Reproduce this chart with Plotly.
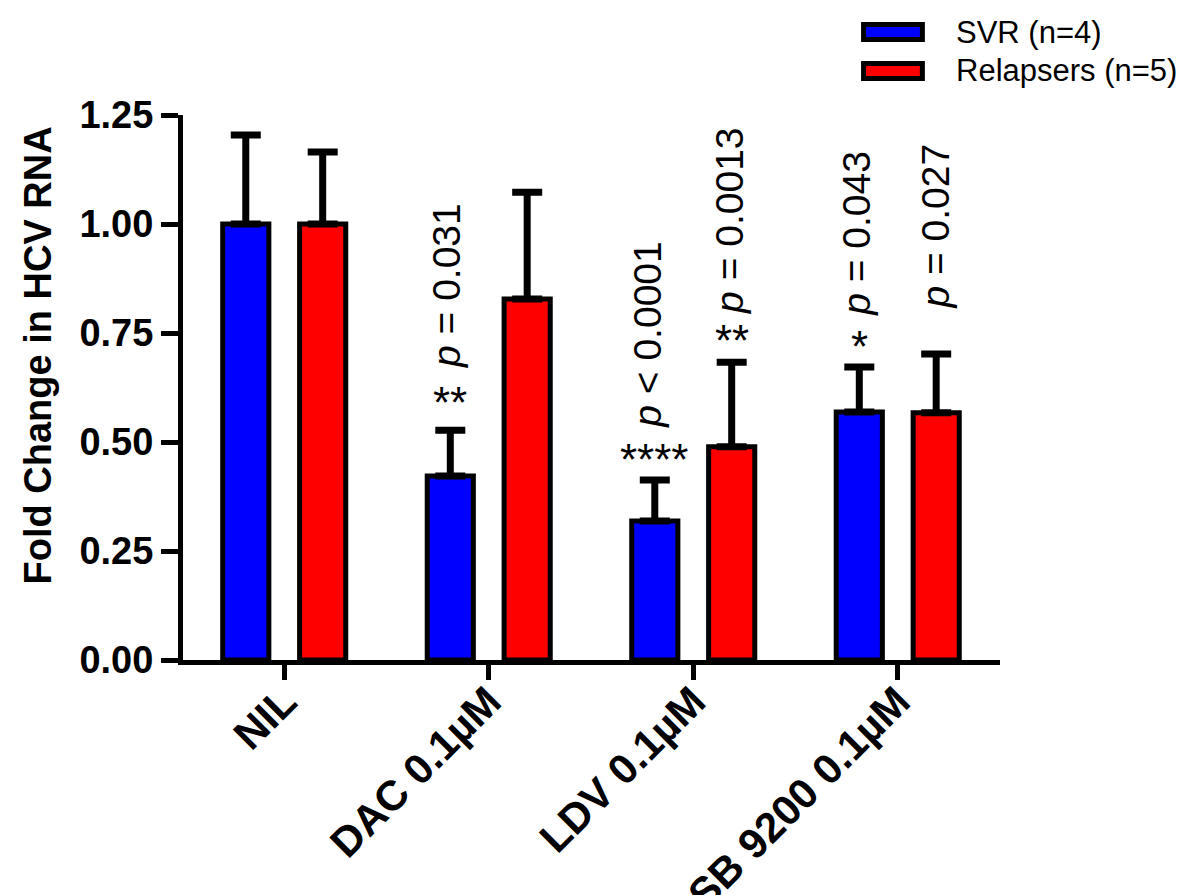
import plotly.graph_objects as go

# ---------------- data ----------------
categories = ["NIL", "DAC 0.1µM", "LDV 0.1µM", "SB 9200 0.1µM"]
series_names = ["SVR (n=4)", "Relapsers (n=5)"]
svr_mean = [1.00, 0.422, 0.319, 0.569]
svr_err = [0.204, 0.105, 0.094, 0.103]
rel_mean = [1.00, 0.828, 0.489, 0.567]
rel_err = [0.165, 0.245, 0.194, 0.135]
y_tick_vals = [0.0, 0.25, 0.50, 0.75, 1.00, 1.25]
y_tick_text = ["0.00", "0.25", "0.50", "0.75", "1.00", "1.25"]
y_title = "Fold Change in HCV RNA"

# significance labels: (category, series index 0=SVR 1=Relapsers, p text, stars)
sig_category = ["DAC 0.1µM", "LDV 0.1µM", "LDV 0.1µM", "SB 9200 0.1µM", "SB 9200 0.1µM"]
sig_series = [0, 0, 1, 0, 1]
sig_p_text = ["<i>p</i> = 0.031", "<i>p</i> &lt; 0.0001", "<i>p</i> = 0.0013",
              "<i>p</i> = 0.043", "<i>p</i> = 0.027"]
sig_stars = ["**", "****", "**", "*", ""]

# ---------------- styling ----------------
FONT = "Arial, Liberation Sans, Helvetica, sans-serif"
colors = ["#0000ff", "#ff0000"]
star_shift_px = [31, 24, 25, 24, 0]     # vertical offsets above error caps (px)
p_shift_px = [60, 50, 46, 49, 43]
p_xshift_px = [-4, -7, -2, -3, -1]
pair_offset = 0.188                     # half-distance between paired bars (category units)

means = [svr_mean, rel_mean]
errs = [svr_err, rel_err]

fig = go.Figure()
for i in range(2):
    fig.add_trace(go.Bar(
        x=categories, y=means[i], name=series_names[i],
        marker=dict(color=colors[i], line=dict(color="black", width=5)),
        error_y=dict(type="data", array=errs[i], arrayminus=[0] * len(errs[i]),
                     symmetric=False, color="black", thickness=7, width=15),
        showlegend=False,
    ))

annotations = []
for k in range(len(sig_category)):
    gi = categories.index(sig_category[k])
    s = sig_series[k]
    xpos = gi + (pair_offset if s == 1 else -pair_offset)
    top = means[s][gi] + errs[s][gi]
    annotations.append(dict(
        x=xpos, y=top, xref="x", yref="y", text=sig_p_text[k], showarrow=False,
        textangle=-90, xanchor="center", yanchor="bottom",
        yshift=p_shift_px[k], xshift=p_xshift_px[k],
        font=dict(family=FONT, size=39, color="black")))
    if sig_stars[k]:
        annotations.append(dict(
            x=xpos, y=top, xref="x", yref="y", text=sig_stars[k], showarrow=False,
            xanchor="center", yanchor="bottom", yshift=star_shift_px[k] - 30,
            font=dict(family=FONT, size=44, color="black")))

# y-axis title (placed as in the reference, slightly above the axis centre)
annotations.append(dict(x=-0.178, y=0.558, xref="paper", yref="paper", text=y_title,
                        textangle=-90, showarrow=False, xanchor="center", yanchor="middle",
                        font=dict(family=FONT, size=38, color="black", weight="bold")))

# custom legend (swatch + label)
legend_rows_y = [(1.1385, 1.166), (1.067, 1.0945)]
legend_text_y = [1.152, 1.081]
shapes = []
for i in range(2):
    y0, y1 = legend_rows_y[i]
    shapes.append(dict(type="rect", xref="paper", yref="paper",
                       x0=0.833, x1=0.905, y0=y0, y1=y1,
                       fillcolor=colors[i], line=dict(color="black", width=5)))
    annotations.append(dict(x=0.944, y=legend_text_y[i], xref="paper", yref="paper",
                            text=series_names[i], showarrow=False,
                            xanchor="left", yanchor="middle",
                            font=dict(family=FONT, size=31, color="black")))

fig.update_layout(
    width=1190, height=895,
    margin=dict(l=175, r=198, t=107, b=243, autoexpand=False),
    paper_bgcolor="white", plot_bgcolor="white",
    barmode="group", bargap=0.248, bargroupgap=0.40,
    font=dict(family=FONT, color="black"),
    annotations=annotations, shapes=shapes,
    showlegend=False,
)
fig.update_xaxes(
    type="category", range=[-0.495, 3.5],
    showline=True, linewidth=5, linecolor="black",
    ticks="outside", ticklen=15, tickwidth=5, tickcolor="black",
    tickangle=-45, ticklabelstandoff=-20,
    tickfont=dict(family=FONT, size=42, color="black", weight="bold"),
    showgrid=False, zeroline=False,
)
fig.update_yaxes(
    range=[0, 1.25], tickvals=y_tick_vals, ticktext=y_tick_text,
    showline=True, linewidth=5, linecolor="black",
    ticks="outside", ticklen=17, tickwidth=5, tickcolor="black",
    tickfont=dict(family=FONT, size=38, color="black", weight="bold"),
    showgrid=False, zeroline=False,
)

fig.write_html("out.html")
